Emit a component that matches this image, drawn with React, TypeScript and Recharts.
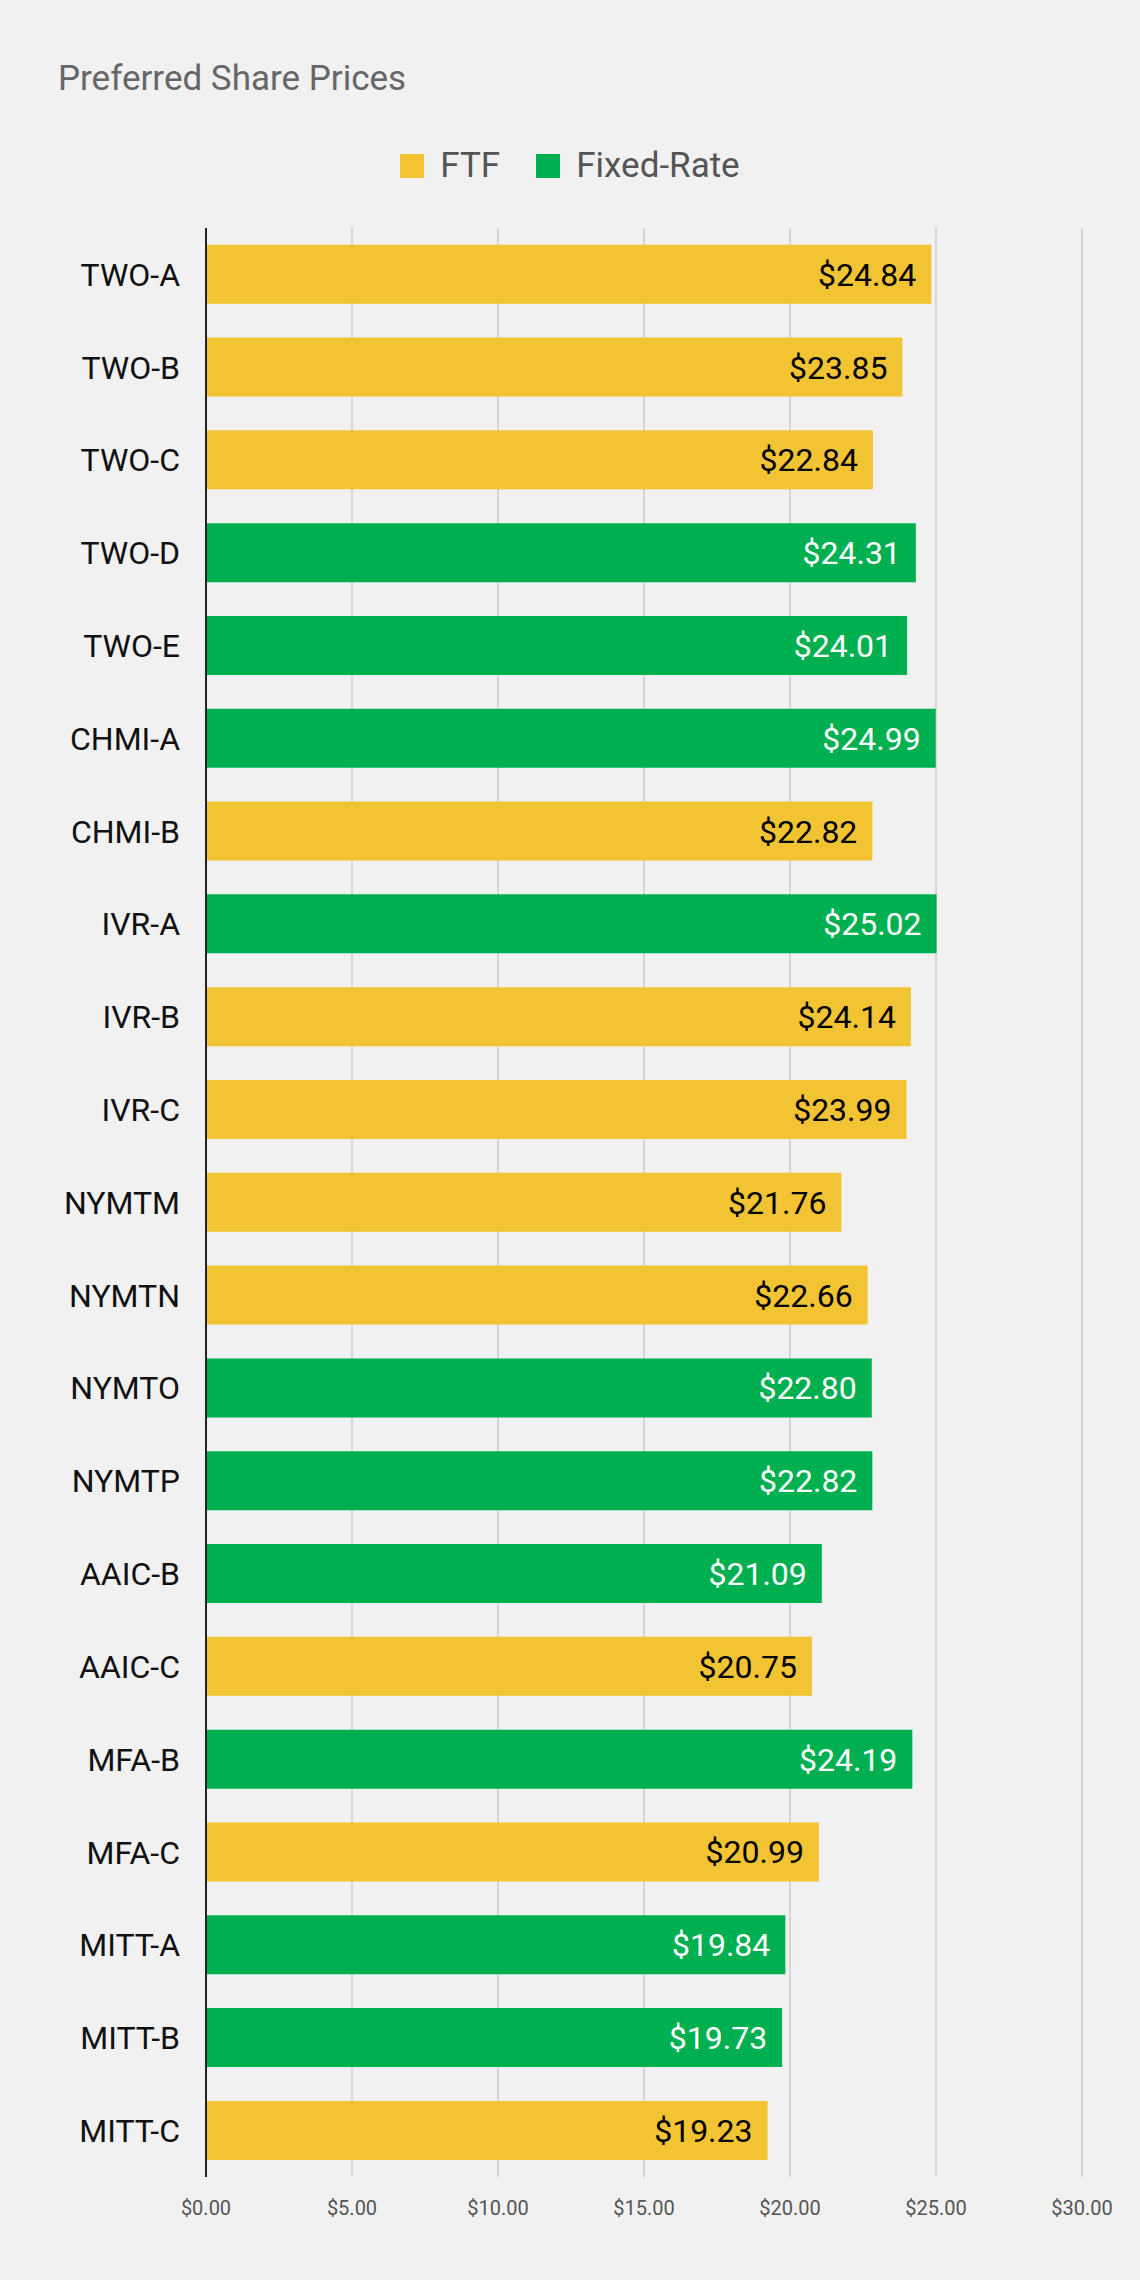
import React from "react";
import { BarChart, Bar, XAxis, YAxis, CartesianGrid, Cell, ReferenceLine, LabelList } from "recharts";

const categories = ["TWO-A","TWO-B","TWO-C","TWO-D","TWO-E","CHMI-A","CHMI-B","IVR-A","IVR-B","IVR-C","NYMTM","NYMTN","NYMTO","NYMTP","AAIC-B","AAIC-C","MFA-B","MFA-C","MITT-A","MITT-B","MITT-C"];
const prices = [24.84,23.85,22.84,24.31,24.01,24.99,22.82,25.02,24.14,23.99,21.76,22.66,22.80,22.82,21.09,20.75,24.19,20.99,19.84,19.73,19.23];
const types = ["FTF","FTF","FTF","Fixed","Fixed","Fixed","FTF","Fixed","FTF","FTF","FTF","FTF","Fixed","Fixed","Fixed","FTF","Fixed","FTF","Fixed","Fixed","FTF"];
const xTicks = [0,5,10,15,20,25,30];

const YELLOW = "#F2C332";
const GREEN = "#00B050";
const data = categories.map((c, i) => ({ name: c, value: prices[i], type: types[i] }));
const font = "Roboto, sans-serif";

const Label = (props: any) => {
  const { x, y, width, height, index } = props;
  const d = data[index];
  return (
    <text x={x + width - 15} y={y + height / 2} dy="0.36em" textAnchor="end" fontSize={32} fontFamily={font}
      fill={d.type === "FTF" ? "#000" : "#fff"}>${d.value.toFixed(2)}</text>
  );
};

export default function App() {
  return (
    <div style={{ position: "absolute", left: 0, top: 0, width: 1140, height: 2280, background: "#F1F1F1", fontFamily: font }}>
      <div style={{ position: "absolute", left: 58, top: 58, fontSize: 35, color: "#666" }}>Preferred Share Prices</div>
      <div style={{ position: "absolute", left: 0, width: 1140, top: 145, display: "flex", justifyContent: "center", alignItems: "center", fontSize: 35, color: "#555" }}>
        <span style={{ width: 24, height: 24, background: YELLOW, display: "inline-block", marginRight: 16 }} />
        <span style={{ marginRight: 36 }}>FTF</span>
        <span style={{ width: 24, height: 24, background: GREEN, display: "inline-block", marginRight: 16 }} />
        <span>Fixed-Rate</span>
      </div>
      <div style={{ position: "absolute", left: 0, top: 0 }}>
        <BarChart width={1140} height={2280} data={data} layout="vertical"
          margin={{ top: 228, right: 58, bottom: 50, left: 0 }} barCategoryGap="18%">
          <CartesianGrid horizontal={false} stroke="#BBBBBB" />
          <XAxis type="number" domain={[0, 30]} ticks={xTicks} axisLine={false} tickLine={false} height={53}
            tickMargin={18} tick={{ fontSize: 20, fill: "#555", fontFamily: font }} tickFormatter={(v: number) => `$${v.toFixed(2)}`} />
          <YAxis type="category" dataKey="name" width={206} axisLine={false} tickLine={false} tickMargin={20}
            tick={{ fontSize: 32, fill: "#111", fontFamily: font }} interval={0} />
          <Bar dataKey="value" isAnimationActive={false}>
            {data.map((d, i) => <Cell key={i} fill={d.type === "FTF" ? YELLOW : GREEN} />)}
            <LabelList dataKey="value" content={Label} />
          </Bar>
          <ReferenceLine x={0} stroke="#222" strokeWidth={2} />
        </BarChart>
      </div>
    </div>
  );
}
